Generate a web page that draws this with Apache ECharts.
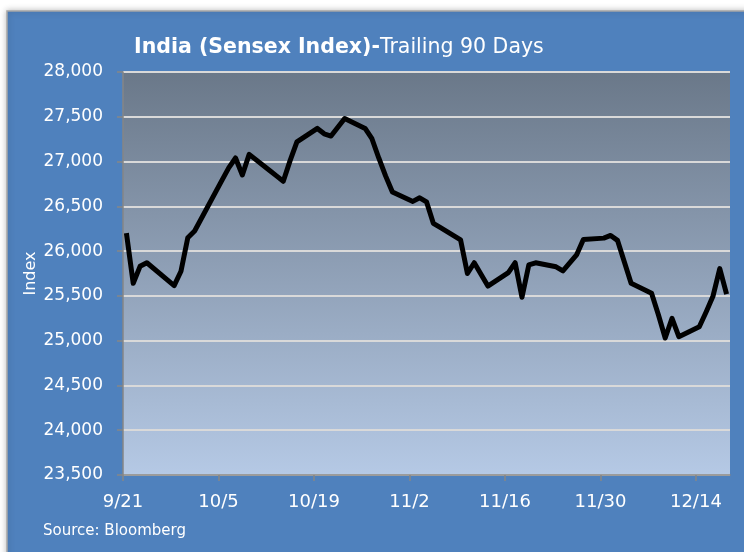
<!DOCTYPE html>
<html>
<head>
<meta charset="utf-8">
<script src="https://cdn.jsdelivr.net/npm/echarts@6/dist/echarts.min.js"></script>
<style>
  html, body { margin: 0; padding: 0; background: #fff; }
  #chart { width: 744px; height: 552px; }
</style>
</head>
<body>
<div id="chart"></div>
<script>
// trading days (2015) and Sensex closes
var dates = [
  "9/21", "9/22", "9/23", "9/24", "9/28", "9/29", "9/30", "10/1",
  "10/5", "10/6", "10/7", "10/8", "10/9", "10/12", "10/13", "10/14", "10/15", "10/16",
  "10/19", "10/20", "10/21", "10/23", "10/26", "10/27", "10/28", "10/29", "10/30",
  "11/2", "11/3", "11/4", "11/5", "11/6", "11/9", "11/10", "11/11", "11/13",
  "11/16", "11/17", "11/18", "11/19", "11/20", "11/23", "11/24", "11/26", "11/27",
  "11/30", "12/1", "12/2", "12/3", "12/4", "12/7", "12/8", "12/9", "12/10", "12/11",
  "12/14", "12/15", "12/16", "12/17", "12/18"
];
var values = [
  26200, 25640, 25830, 25870, 25615, 25775, 26150, 26225,
  26790, 26930, 27040, 26850, 27080, 26900, 26840, 26780, 27010, 27220,
  27370, 27310, 27285, 27480, 27370, 27255, 27040, 26840, 26660,
  26555, 26595, 26550, 26310, 26265, 26125, 25750, 25870, 25610,
  25760, 25870, 25485, 25845, 25870, 25825, 25780, 25957, 26130,
  26145, 26175, 26120, 25880, 25640, 25530, 25290, 25030, 25250, 25045,
  25155, 25320, 25495, 25805, 25520
];
var tickLabels = ["9/21", "10/5", "10/19", "11/2", "11/16", "11/30", "12/14"];

var startDay = new Date(2015, 8, 21);
function dayOffset(s) {
  var p = s.split("/");
  var d = new Date(2015, +p[0] - 1, +p[1]);
  return Math.round((d - startDay) / 86400000);
}

var tickPos = tickLabels.map(dayOffset);
// each day sits in the middle of its slot
var seriesData = dates.map(function (d, i) {
  return [dayOffset(d) + 0.5, values[i]];
});

var font = "DejaVu Sans";
var chart = echarts.init(document.getElementById("chart"));
chart.setOption({
  backgroundColor: "#ffffff",
  animation: false,
  title: {
    left: 129,
    top: 32,
    text: "{b|India (Sensex Index)-}{n|Trailing 90 Days}",
    textStyle: {
      rich: {
        b: { fontFamily: font, fontWeight: "bold", fontSize: 20.5, color: "#ffffff" },
        n: { fontFamily: font, fontWeight: "normal", fontSize: 20.5, color: "#ffffff" }
      }
    }
  },
  graphic: [
    {
      type: "rect",
      z: -1,
      shape: { x: 7, y: 11, width: 745, height: 550 },
      style: {
        fill: "#4f81bd",
        stroke: "#a6a6a6",
        lineWidth: 1.5,
        shadowBlur: 6,
        shadowColor: "rgba(0,0,0,0.25)"
      }
    },
    {
      type: "text",
      left: 43,
      top: 524,
      style: {
        text: "Source: Bloomberg",
        fill: "#ffffff",
        font: "15px 'DejaVu Sans'"
      }
    }
  ],
  grid: {
    left: 123,
    right: 14,
    top: 72,
    bottom: 77,
    show: true,
    borderWidth: 0,
    backgroundColor: {
      type: "linear",
      x: 0, y: 0, x2: 0, y2: 1,
      colorStops: [
        { offset: 0, color: "#6a7889" },
        { offset: 1, color: "#b5c9e5" }
      ]
    }
  },
  xAxis: {
    type: "value",
    min: 0,
    max: 89,
    splitLine: { show: false },
    axisLine: { show: true, lineStyle: { color: "#868686", width: 1.5 } },
    axisTick: {
      show: true,
      length: 6,
      customValues: tickPos,
      lineStyle: { color: "#868686", width: 1.5 }
    },
    axisLabel: {
      customValues: tickPos,
      margin: 18,
      color: "#ffffff",
      fontFamily: font,
      fontSize: 18,
      formatter: function (v) {
        var i = tickPos.indexOf(Math.round(v));
        return i >= 0 ? tickLabels[i] : "";
      }
    }
  },
  yAxis: {
    type: "value",
    min: 23500,
    max: 28000,
    interval: 500,
    name: "Index",
    nameLocation: "middle",
    nameRotate: 90,
    nameGap: 84,
    nameMoveOverlap: false,
    nameTextStyle: { color: "#ffffff", fontFamily: font, fontSize: 16 },
    axisLine: { show: true, lineStyle: { color: "#868686", width: 1.5 } },
    axisTick: { show: true, length: 6, lineStyle: { color: "#868686", width: 1.5 } },
    axisLabel: {
      margin: 20,
      color: "#ffffff",
      fontFamily: font,
      fontSize: 17,
      formatter: function (v) { return v.toLocaleString("en-US"); }
    },
    splitLine: { show: true, lineStyle: { color: "#d9d9d9", width: 2 } }
  },
  series: [{
    name: "Sensex",
    type: "line",
    data: seriesData,
    showSymbol: false,
    symbol: "none",
    lineStyle: { color: "#000000", width: 5, join: "round" }
  }]
});
</script>
</body>
</html>
